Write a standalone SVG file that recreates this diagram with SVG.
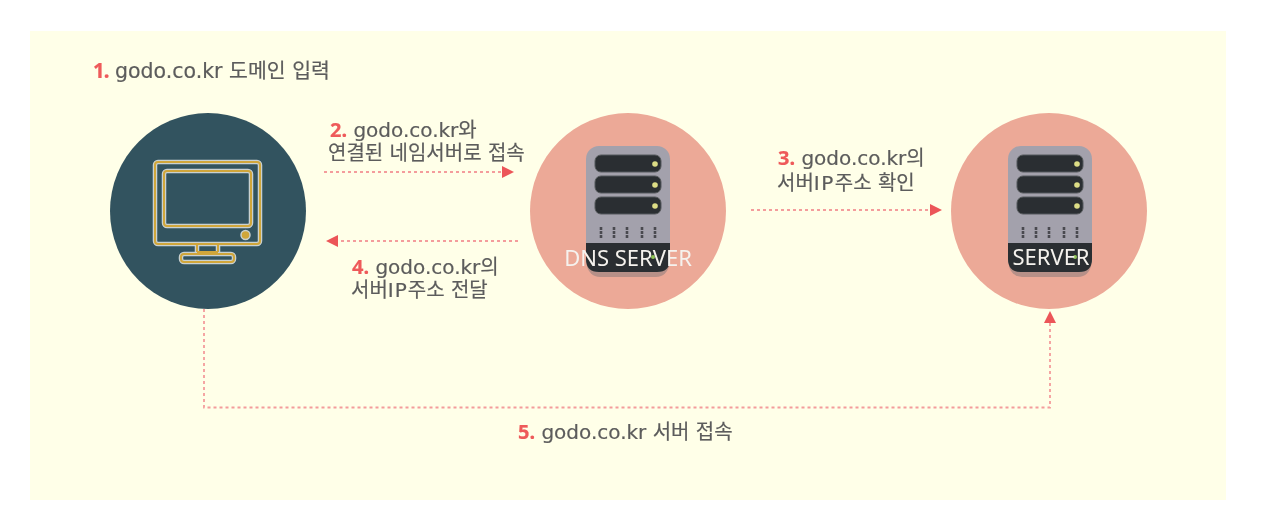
<svg xmlns="http://www.w3.org/2000/svg" width="1264" height="520" viewBox="0 0 1264 520">
<style>
text{font-family:"DejaVu Sans","Noto Sans CJK KR",sans-serif;font-size:20px;fill:#5c5c5c;stroke:#5c5c5c;stroke-width:0.2;}
.n{fill:#ee5a5a;stroke:#ee5a5a;font-weight:700;font-family:"Noto Sans","Noto Sans CJK KR",sans-serif;}
.dash{fill:none;stroke:#f49c9c;stroke-width:1.8;stroke-dasharray:3 3;}
.head{fill:#ec5558;}
.pink{fill:#eca997;}
.body{fill:#a3a1ac;}
.dark{fill:#292f30;stroke:#55585c;stroke-width:1;}
.band{fill:#292f30;}
.led{fill:#dcdc86;}
.mark{fill:none;stroke:#4a4a50;stroke-width:2.6;stroke-dasharray:3 1;}
.gold{fill:none;stroke:#d0a63a;stroke-width:2;}
.halo{fill:none;stroke:#c9d1d0;stroke-width:4.500;}
.wt{fill:#f5f2ee;stroke:none;font-family:"Noto Sans","Liberation Sans",sans-serif;font-size:22px;}
</style>
<defs>
<filter id="soft" x="0" y="0" width="100%" height="100%"><feGaussianBlur stdDeviation="0.45"/></filter>
<g id="srv">
<rect x="587" y="150" width="82" height="127" rx="13" fill="#8d7b7b" opacity="0.55"/>
<rect class="body" x="586" y="146" width="84" height="126" rx="13"/>
<rect class="dark" x="595" y="155" width="66" height="17" rx="6"/>
<rect class="dark" x="595" y="176" width="66" height="17" rx="6"/>
<rect class="dark" x="595" y="197" width="66" height="17" rx="6"/>
<circle class="led" cx="655" cy="164" r="2.800"/>
<circle class="led" cx="655" cy="185" r="2.800"/>
<circle class="led" cx="655" cy="206" r="2.800"/>
<path class="mark" d="M601 227V239M614 227V239M627 227V239M642 227V239M655 227V239"/>
<path class="band" d="M586 243H670V259Q670 272 657 272H599Q586 272 586 259Z"/>
<circle cx="653" cy="257" r="2" fill="#8fc456"/>
</g>
</defs>
<rect id="panel" x="30" y="31" width="1196" height="469" fill="#ffffe8"/>
<g filter="url(#soft)">
<g id="connectors">
<path class="dash" d="M324 172H503"/>
<path class="head" d="M514 172L502 166V178Z"/>
<path class="dash" d="M518 241H338"/>
<path class="head" d="M326 241L338 235V247Z"/>
<path class="dash" d="M751 210H930"/>
<path class="head" d="M942 210L930 204V216Z"/>
<path class="dash" d="M204 309V407.500H1050V323"/>
<path class="head" d="M1050 311L1044 323H1056Z"/>
</g>
<g id="computer">
<circle cx="208" cy="211" r="98" fill="#33535f"/>
<g class="halo">
<rect x="155" y="162" width="105" height="82" rx="3"/>
<rect x="164" y="171" width="87" height="55" rx="3"/>
<path d="M197 245V252M218 245V252"/>
<rect x="181" y="254" width="53" height="8" rx="3"/>
</g>
<g class="gold">
<rect x="155" y="162" width="105" height="82" rx="3"/>
<rect x="164" y="171" width="87" height="55" rx="3"/>
<path d="M197 245V252M218 245V252M197 252H218"/>
<rect x="181" y="254" width="53" height="8" rx="3"/>
</g>
<circle cx="245.500" cy="235" r="4.500" fill="#d0a63a" stroke="#c9d1d0" stroke-width="1.500"/>
</g>
<g id="dns">
<circle class="pink" cx="628" cy="211" r="98"/>
<use href="#srv"/>
<text class="wt" x="628" y="266" text-anchor="middle">DNS SERVER</text>
</g>
<g id="server">
<circle class="pink" cx="1049" cy="211" r="98"/>
<use href="#srv" x="422"/>
<text class="wt" x="1051" y="265" text-anchor="middle">SERVER</text>
</g>
<g id="labels">
<text x="93" y="78" style="font-size:20.500px"><tspan class="n" letter-spacing="-1">1.</tspan> godo.co.kr 도메인 입력</text>
<text x="330" y="137"><tspan class="n">2.</tspan> godo.co.kr와</text>
<text x="328" y="160">연결된 네임서버로 접속</text>
<text x="778" y="165"><tspan class="n">3.</tspan> godo.co.kr의</text>
<text x="777" y="190">서버<tspan letter-spacing="1.500">IP</tspan>주소 확인</text>
<text x="352" y="274"><tspan class="n">4.</tspan> godo.co.kr의</text>
<text x="351" y="297">서버<tspan letter-spacing="1">IP</tspan>주소 전달</text>
<text x="518" y="439"><tspan class="n">5.</tspan> godo.co.kr 서버 접속</text>
</g>
</g>
</svg>
